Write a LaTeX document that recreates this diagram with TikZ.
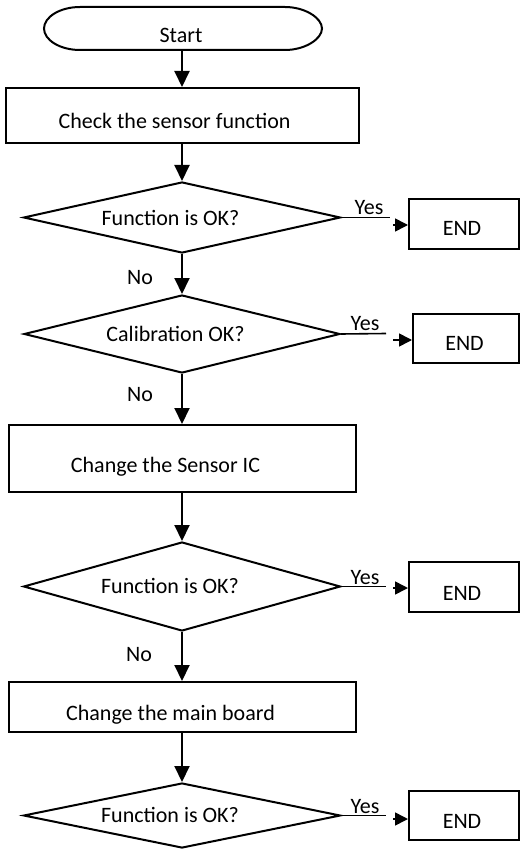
\documentclass[tikz,border=0pt]{standalone}
\usepackage{fontspec}
\setmainfont{Carlito}
\usetikzlibrary{shapes.geometric,arrows.meta}
\newcommand{\padr}[1]{\hspace*{#1}}
\begin{document}
\begin{tikzpicture}[x=1pt,y=-1pt,
  every node/.style={font=\fontsize{22}{26}\selectfont, inner sep=0pt, text depth=0pt},
  procbox/.style={draw, line width=2pt, rectangle},
  decision/.style={draw, line width=2pt, diamond, aspect=4.5},
  endbox/.style={draw, line width=2pt, rectangle, minimum width=110, minimum height=50},
  flow/.style={line width=2pt, -{Triangle[length=16pt,width=15pt]}},
  yesline/.style={line width=1.6pt},
  yestip/.style={line width=1.6pt, -{Triangle[length=13pt,width=13pt]}},
  lbl/.style={text height=14.2pt}
]
\useasboundingbox (0,0) rectangle (520,850);

% Start terminator
\node[minimum width=278, minimum height=43, text height=27.2pt] (start) at (182,28.5) {Start\padr{2pt}};
\draw[line width=2pt] (80,7) -- (285,7) .. controls (305,7) and (322,18) .. (322,28.5)
  .. controls (322,39) and (305,50) .. (285,50) -- (80,50)
  .. controls (60,50) and (44,40) .. (44,28.5) .. controls (44,17) and (60,7) .. (80,7);

% process boxes
\node[procbox, minimum width=353, minimum height=55, text height=25.2pt] (b1) at (182,115.5) {Check the sensor function\padr{15pt}};
\node[procbox, minimum width=347, minimum height=67, text height=28.2pt] (b3) at (182,458.5) {Change the Sensor IC\padr{33pt}};
\node[procbox, minimum width=347, minimum height=50, text height=27.2pt] (b4) at (182,707) {Change the main board\padr{23pt}};

% decisions
\node[decision, minimum width=317, minimum height=71, text height=16.2pt] (d1) at (182,217.5) {Function is OK?\padr{23pt}};
\node[decision, minimum width=316, minimum height=78, text height=14.2pt] (d2) at (182,334) {Calibration OK?\padr{13pt}};
\node[decision, minimum width=317, minimum height=89, text height=14.2pt] (d3) at (182,586.5) {Function is OK?\padr{24pt}};
\node[decision, minimum width=317, minimum height=65, text height=14.2pt] (d4) at (182,815.5) {Function is OK?\padr{24pt}};

% END boxes
\node[endbox, text height=23.2pt] (e1) at (464,224) {END\padr{4pt}};
\node[endbox, minimum width=106, minimum height=49, text height=24.2pt] (e2) at (466,338.5) {END\padr{3pt}};
\node[endbox, text height=27.2pt] (e3) at (464,587) {END\padr{4pt}};
\node[endbox, minimum height=49, text height=26.2pt] (e4) at (464,815.5) {END\padr{4pt}};

% vertical flow
\draw[flow] (start) -- (b1);
\draw[flow] (b1) -- (d1);
\draw[flow] (d1) -- (d2);
\draw[flow] (d2) -- (b3);
\draw[flow] (b3) -- (d3);
\draw[flow] (d3) -- (b4);
\draw[flow] (b4) -- (d4);

% No labels
\node[lbl] (n1) at (140,277.5) {No};
\node[lbl] (n2) at (140,394) {No};
\node[lbl] (n3) at (139,654) {No};

% Yes branches
\coordinate (y1) at (390,217.5);
\coordinate (y2) at (386,333.5);
\coordinate (y3) at (386,586.5);
\coordinate (y4) at (386,815.5);
\coordinate (t1) at (393,225);
\coordinate (t2) at (393,340);
\coordinate (t3) at (393,588);
\coordinate (t4) at (393,819);
\draw[yesline] (d1.east) -- (y1);
\draw[yesline] (d2.east) -- (y2);
\draw[yesline] (d3.east) -- (y3);
\draw[yesline] (d4.east) -- (y4);
\draw[yestip] (t1) -- (e1.west |- t1);
\draw[yestip] (t2) -- (e2.west |- t2);
\draw[yestip] (t3) -- (e3.west |- t3);
\draw[yestip] (t4) -- (e4.west |- t4);

\node[lbl] (l1) at (369,207.5) {Yes};
\node[lbl] (l2) at (365,323.5) {Yes};
\node[lbl] (l3) at (365,577.5) {Yes};
\node[lbl] (l4) at (365,806) {Yes};
\end{tikzpicture}
\end{document}
